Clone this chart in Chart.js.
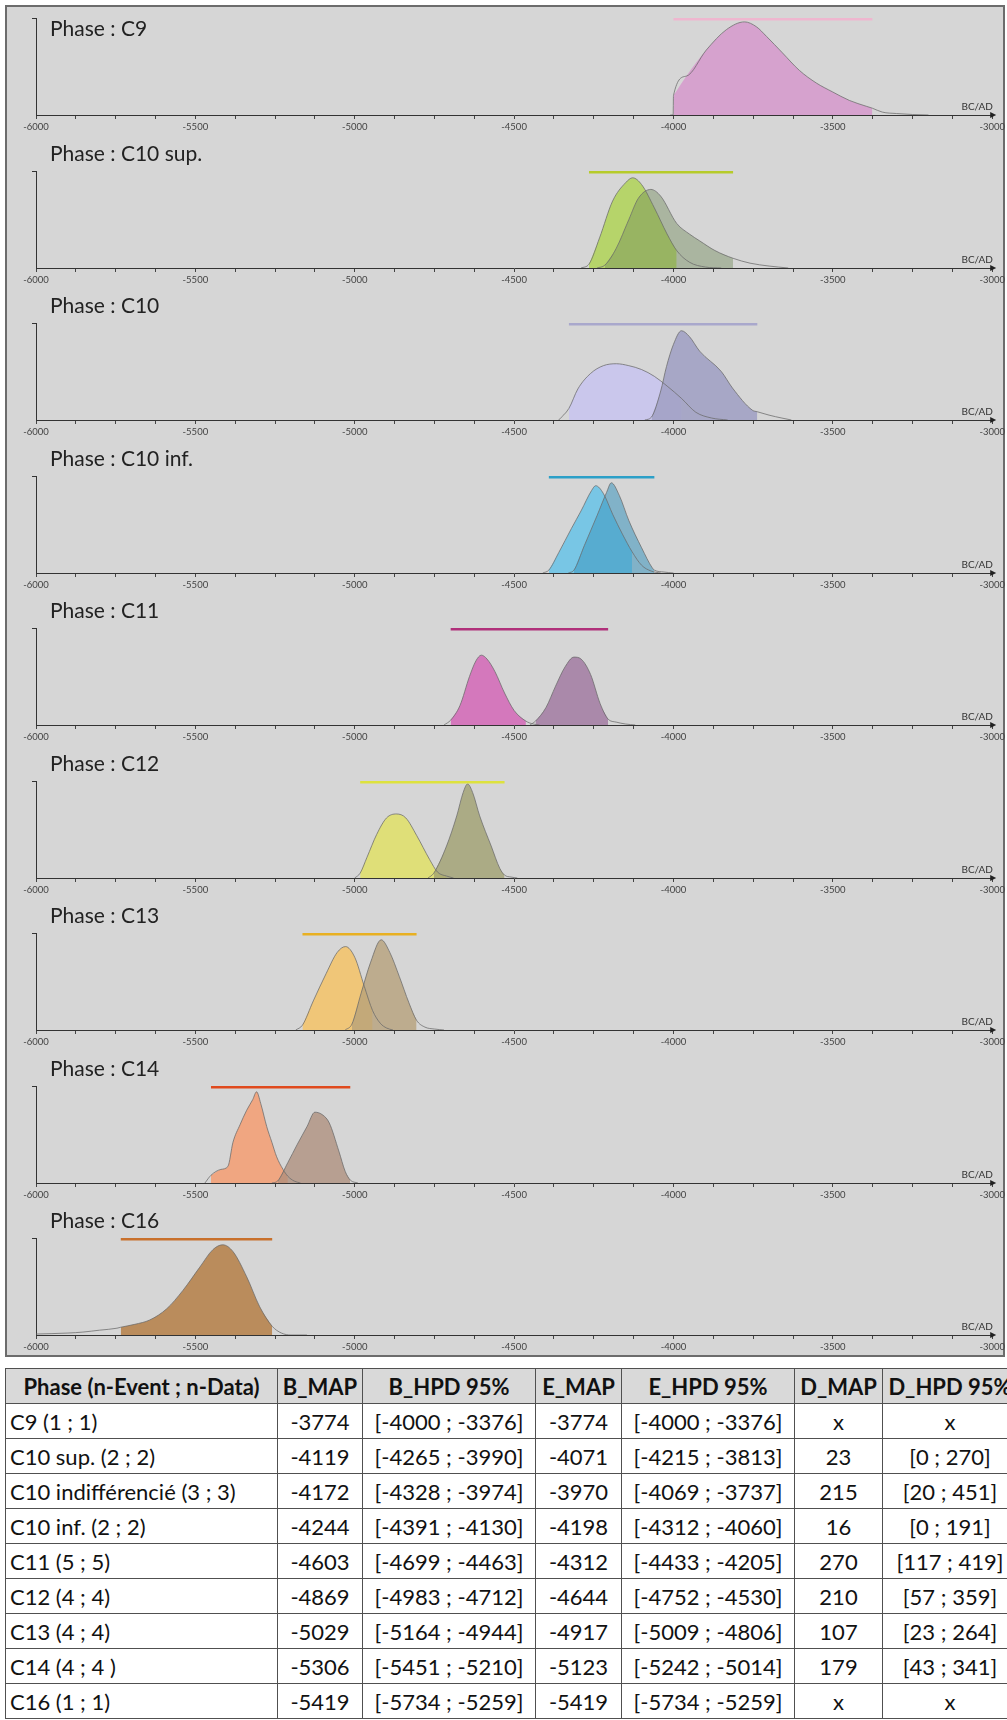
<!DOCTYPE html>
<html>
<head>
<meta charset="utf-8">
<script src="https://cdn.jsdelivr.net/npm/chart.js@4.4.1/dist/chart.umd.min.js"></script>
<style>
html, body { margin: 0; padding: 0; overflow: hidden; background: #fff; width: 1007px; height: 1720px; position: relative; font-family: Lato, 'Noto Sans', sans-serif; }
#frame { position: absolute; left: 5px; top: 5px; width: 996px; height: 1348px; border: 2px solid #6c6c6c; background: #d6d6d6; }
canvas.panel { position: absolute; left: 0; }
.ptitle { position: absolute; left: 50px; font-size: 21px; color: #222; line-height: 24px; white-space: nowrap; }
#tbl { position: absolute; left: 5px; top: 1368px; border-collapse: collapse; table-layout: fixed; width: 1012px; font-size: 22px; color: #111; }
#tbl td, #tbl th { border: 1.5px solid #505050; padding: 0 4px; height: 34px; white-space: nowrap; overflow: hidden; text-align: center; }
#tbl th { background: #d9d9d9; font-weight: bold; }
#tbl td:first-child { text-align: left; }
</style>
</head>
<body>
<div id="frame"></div>
<div id="panels"></div>
<table id="tbl"></table>
<script>
// phases and table values
const phaseNames = ['C9', 'C10 sup.', 'C10', 'C10 inf.', 'C11', 'C12', 'C13', 'C14', 'C16'];
const rowLabels = ['C9 (1 ; 1)', 'C10 sup. (2 ; 2)', 'C10 indifférencié (3 ; 3)', 'C10 inf. (2 ; 2)',
    'C11 (5 ; 5)', 'C12 (4 ; 4)', 'C13 (4 ; 4)', 'C14 (4 ; 4 )', 'C16 (1 ; 1)'];
const headers = ['Phase (n-Event ; n-Data)', 'B_MAP', 'B_HPD 95%', 'E_MAP', 'E_HPD 95%', 'D_MAP', 'D_HPD 95%'];
const bMap = [-3774, -4119, -4172, -4244, -4603, -4869, -5029, -5306, -5419];
const bHpd = [[-4000, -3376], [-4265, -3990], [-4328, -3974], [-4391, -4130], [-4699, -4463],
    [-4983, -4712], [-5164, -4944], [-5451, -5210], [-5734, -5259]];
const eMap = [-3774, -4071, -3970, -4198, -4312, -4644, -4917, -5123, -5419];
const eHpd = [[-4000, -3376], [-4215, -3813], [-4069, -3737], [-4312, -4060], [-4433, -4205],
    [-4752, -4530], [-5009, -4806], [-5242, -5014], [-5734, -5259]];
const dMap = ['x', '23', '215', '16', '270', '210', '107', '179', 'x'];
const dHpd = ['x', '[0 ; 270]', '[20 ; 451]', '[0 ; 191]', '[117 ; 419]', '[57 ; 359]', '[23 ; 264]', '[43 ; 341]', 'x'];

const xTickLabels = [-6000, -5500, -5000, -4500, -4000, -3500, -3000];

// densities: [year, relative height]
const c9Density = [[-4010, 0], [-4001, 0], [-4000, 0.2], [-3960, 0.40], [-3897, 0.67], [-3834, 0.88],
    [-3777, 0.96], [-3740, 0.91], [-3708, 0.81], [-3658, 0.64], [-3605, 0.46], [-3552, 0.33],
    [-3502, 0.24], [-3448, 0.15], [-3395, 0.09], [-3376, 0.07], [-3345, 0.03], [-3300, 0.015], [-3250, 0.005], [-3200, 0]];
const c10supBegin = [[-4290, 0], [-4265, 0.04], [-4232, 0.31], [-4191, 0.69], [-4150, 0.88], [-4128, 0.93],
    [-4100, 0.86], [-4060, 0.62], [-4020, 0.35], [-3990, 0.18], [-3950, 0.06], [-3900, 0.01], [-3850, 0]];
const c10supEnd = [[-4240, 0], [-4215, 0.03], [-4180, 0.2], [-4140, 0.5], [-4110, 0.72], [-4071, 0.81],
    [-4040, 0.74], [-3990, 0.46], [-3950, 0.35], [-3918, 0.28], [-3870, 0.18], [-3813, 0.10],
    [-3760, 0.05], [-3700, 0.02], [-3640, 0]];
const c10Begin = [[-4360, 0], [-4328, 0.12], [-4300, 0.32], [-4260, 0.48], [-4220, 0.56], [-4179, 0.58],
    [-4140, 0.56], [-4100, 0.52], [-4060, 0.45], [-4020, 0.35], [-3974, 0.22], [-3930, 0.08], [-3880, 0.02], [-3830, 0]];
const c10End = [[-4090, 0], [-4069, 0.03], [-4040, 0.3], [-4022, 0.55], [-4000, 0.78], [-3975, 0.92],
    [-3950, 0.86], [-3918, 0.71], [-3850, 0.50], [-3815, 0.33], [-3752, 0.10], [-3737, 0.085],
    [-3700, 0.05], [-3660, 0.02], [-3630, 0]];
const c10infBegin = [[-4410, 0], [-4391, 0.03], [-4360, 0.21], [-4320, 0.46], [-4290, 0.64], [-4257, 0.85],
    [-4244, 0.90], [-4220, 0.82], [-4190, 0.6], [-4160, 0.4], [-4130, 0.22], [-4100, 0.08], [-4070, 0.02], [-4040, 0]];
const c10infEnd = [[-4330, 0], [-4312, 0.03], [-4280, 0.28], [-4240, 0.59], [-4210, 0.83], [-4195, 0.93],
    [-4170, 0.80], [-4140, 0.54], [-4100, 0.26], [-4066, 0.05], [-4060, 0.03], [-4030, 0.01], [-4000, 0]];
const c11Begin = [[-4720, 0], [-4699, 0.05], [-4670, 0.2], [-4640, 0.5], [-4620, 0.66], [-4603, 0.72],
    [-4585, 0.68], [-4560, 0.55], [-4530, 0.33], [-4500, 0.15], [-4463, 0.04], [-4440, 0.01], [-4420, 0]];
const c11End = [[-4450, 0], [-4433, 0.04], [-4400, 0.18], [-4370, 0.4], [-4340, 0.6], [-4312, 0.70],
    [-4290, 0.68], [-4260, 0.52], [-4230, 0.22], [-4205, 0.06], [-4180, 0.03], [-4150, 0.01], [-4120, 0]];
const c12Begin = [[-5000, 0], [-4983, 0.05], [-4962, 0.21], [-4931, 0.45], [-4900, 0.62], [-4869, 0.66],
    [-4840, 0.62], [-4806, 0.44], [-4765, 0.19], [-4740, 0.06], [-4712, 0.02], [-4690, 0]];
const c12End = [[-4770, 0], [-4752, 0.05], [-4712, 0.33], [-4680, 0.64], [-4660, 0.88], [-4646, 0.97],
    [-4630, 0.88], [-4608, 0.64], [-4572, 0.33], [-4545, 0.1], [-4530, 0.03], [-4510, 0.01], [-4490, 0]];
const c13Begin = [[-5185, 0], [-5164, 0.05], [-5130, 0.3], [-5090, 0.58], [-5055, 0.8], [-5029, 0.86],
    [-5000, 0.75], [-4970, 0.45], [-4944, 0.2], [-4920, 0.07], [-4900, 0.02], [-4880, 0]];
const c13End = [[-5030, 0], [-5009, 0.06], [-4980, 0.38], [-4950, 0.7], [-4917, 0.93], [-4890, 0.8],
    [-4860, 0.55], [-4830, 0.28], [-4806, 0.1], [-4780, 0.03], [-4750, 0.01], [-4720, 0]];
const c14Begin = [[-5470, 0], [-5451, 0.08], [-5420, 0.14], [-5398, 0.17], [-5382, 0.42], [-5360, 0.6],
    [-5339, 0.75], [-5320, 0.86], [-5308, 0.94], [-5295, 0.82], [-5276, 0.58], [-5260, 0.42],
    [-5245, 0.27], [-5225, 0.14], [-5210, 0.07], [-5190, 0.02], [-5170, 0]];
const c14End = [[-5260, 0], [-5242, 0.02], [-5210, 0.21], [-5180, 0.40], [-5150, 0.58], [-5125, 0.73],
    [-5100, 0.70], [-5080, 0.62], [-5050, 0.33], [-5030, 0.12], [-5014, 0.03], [-4990, 0]];
const c16Density = [[-6000, 0.01], [-5900, 0.02], [-5853, 0.03], [-5800, 0.05], [-5746, 0.07], [-5734, 0.08],
    [-5690, 0.11], [-5643, 0.155], [-5590, 0.27], [-5539, 0.46], [-5486, 0.70], [-5445, 0.88],
    [-5414, 0.93], [-5382, 0.86], [-5339, 0.60], [-5298, 0.29], [-5259, 0.09], [-5230, 0.02], [-5200, 0], [-5150, 0]];

const beginCurves = [c9Density, c10supBegin, c10Begin, c10infBegin, c11Begin, c12Begin, c13Begin, c14Begin, c16Density];
const endCurves = [null, c10supEnd, c10End, c10infEnd, c11End, c12End, c13End, c14End, null];

// colours
const barColors = ['#efb6cf', '#b6cb2a', '#a9a8cc', '#2ca0c8', '#b0307a', '#dde23e', '#e8b022', '#e04a1e', '#c8702c'];
const beginColors = ['rgb(214,162,206)', 'rgba(180,212,100,0.95)', 'rgba(200,196,240,0.85)', 'rgba(112,196,230,0.92)',
    'rgba(212,112,186,0.92)', 'rgba(224,224,112,0.92)', 'rgba(242,196,112,0.92)', 'rgba(242,162,122,0.92)', 'rgb(186,140,92)'];
const endColors = [null, 'rgba(110,135,85,0.42)', 'rgba(160,160,196,0.88)', 'rgba(60,150,190,0.55)',
    'rgba(166,130,166,0.92)', 'rgba(160,160,112,0.8)', 'rgba(182,160,122,0.78)', 'rgba(172,140,122,0.75)', null];

const barLevel = 0.99;

function pts(curve) {
    return curve.map(p => ({ x: p[0], y: p[1] }));
}
function hpdPts(curve, range) {
    return curve.filter(p => p[0] >= range[0] && p[0] <= range[1]).map(p => ({ x: p[0], y: p[1] }));
}

const axisDecor = {
    id: 'axisDecor',
    afterDraw(chart) {
        const ctx = chart.ctx;
        const a = chart.chartArea;
        ctx.save();
        ctx.fillStyle = '#222';
        ctx.beginPath();
        ctx.moveTo(a.right + 4, a.bottom);
        ctx.lineTo(a.right - 2, a.bottom - 3);
        ctx.lineTo(a.right - 2, a.bottom + 3);
        ctx.closePath();
        ctx.fill();
        ctx.font = '10px Lato';
        ctx.fillStyle = '#333';
        ctx.textAlign = 'center';
        ctx.fillText('BC/AD', a.right - 15, a.bottom - 5);
        ctx.restore();
    }
};

const holder = document.getElementById('panels');
const charts = [];

for (let i = 0; i < phaseNames.length; i++) {
    const axisY = 115 + 152.5 * i;

    const title = document.createElement('div');
    title.className = 'ptitle';
    title.textContent = 'Phase : ' + phaseNames[i];
    title.style.top = (i === 0 ? 16 : axisY - 127) + 'px';

    const cv = document.createElement('canvas');
    cv.className = 'panel';
    cv.width = 1007;
    cv.height = 130;
    cv.style.top = (axisY - 105) + 'px';
    holder.appendChild(cv);
    holder.appendChild(title);

    const datasets = [];
    datasets.push({
        data: [{ x: bHpd[i][0], y: barLevel }, { x: eHpd[i][1], y: barLevel }],
        borderColor: barColors[i], borderWidth: 3, pointRadius: 0, fill: false, tension: 0
    });
    const curves = [];
    if (endCurves[i]) curves.push({ c: endCurves[i], r: eHpd[i], col: endColors[i] });
    curves.push({ c: beginCurves[i], r: bHpd[i], col: beginColors[i] });

    curves.forEach(k => {
        datasets.push({
            data: pts(k.c), borderColor: 'rgba(105,105,105,0.75)', borderWidth: 1,
            pointRadius: 0, fill: false, cubicInterpolationMode: 'monotone'
        });
    });
    curves.forEach(k => {
        datasets.push({
            data: hpdPts(k.c, k.r), borderWidth: 0, borderColor: 'transparent',
            backgroundColor: k.col, pointRadius: 0, fill: 'origin', cubicInterpolationMode: 'monotone'
        });
    });

    charts.push(new Chart(cv.getContext('2d'), {
        type: 'line',
        data: { datasets: datasets },
        options: {
            responsive: false,
            animation: false,
            events: [],
            layout: { padding: { left: 32, right: 14, top: 8, bottom: 0 } },
            plugins: { legend: { display: false }, tooltip: { enabled: false } },
            scales: {
                x: {
                    type: 'linear', min: -6000, max: -3000,
                    afterFit: s => { s.height = 25; },
                    border: { display: true, color: '#333', width: 1 },
                    grid: { drawOnChartArea: false, drawTicks: true, tickLength: 4, color: '#444' },
                    ticks: {
                        stepSize: 125, autoSkip: false, maxRotation: 0, padding: 2,
                        color: '#444', font: { size: 9.5, family: 'Lato' },
                        callback: v => xTickLabels.includes(v) ? String(v) : ''
                    }
                },
                y: {
                    min: 0, max: 1,
                    afterFit: s => { s.width = 4; },
                    border: { display: true, color: '#333', width: 1 },
                    grid: {
                        drawOnChartArea: false, drawTicks: true, tickLength: 4,
                        color: c => (c.tick && c.tick.value === 1) ? '#333' : 'transparent'
                    },
                    ticks: { display: false, stepSize: 1 }
                }
            }
        },
        plugins: [axisDecor]
    }));
}

// table
const tbl = document.getElementById('tbl');
const colW = [272, 85, 173, 86, 173, 88, 135];
let html = '<colgroup>' + colW.map(w => '<col style="width:' + w + 'px">').join('') + '</colgroup>';
html += '<tr>' + headers.map(h => '<th>' + h + '</th>').join('') + '</tr>';
for (let i = 0; i < rowLabels.length; i++) {
    html += '<tr><td>' + rowLabels[i] + '</td><td>' + bMap[i] + '</td><td>[' + bHpd[i][0] + ' ; ' + bHpd[i][1] +
        ']</td><td>' + eMap[i] + '</td><td>[' + eHpd[i][0] + ' ; ' + eHpd[i][1] + ']</td><td>' + dMap[i] +
        '</td><td>' + dHpd[i] + '</td></tr>';
}
tbl.innerHTML = html;
</script>
</body>
</html>
